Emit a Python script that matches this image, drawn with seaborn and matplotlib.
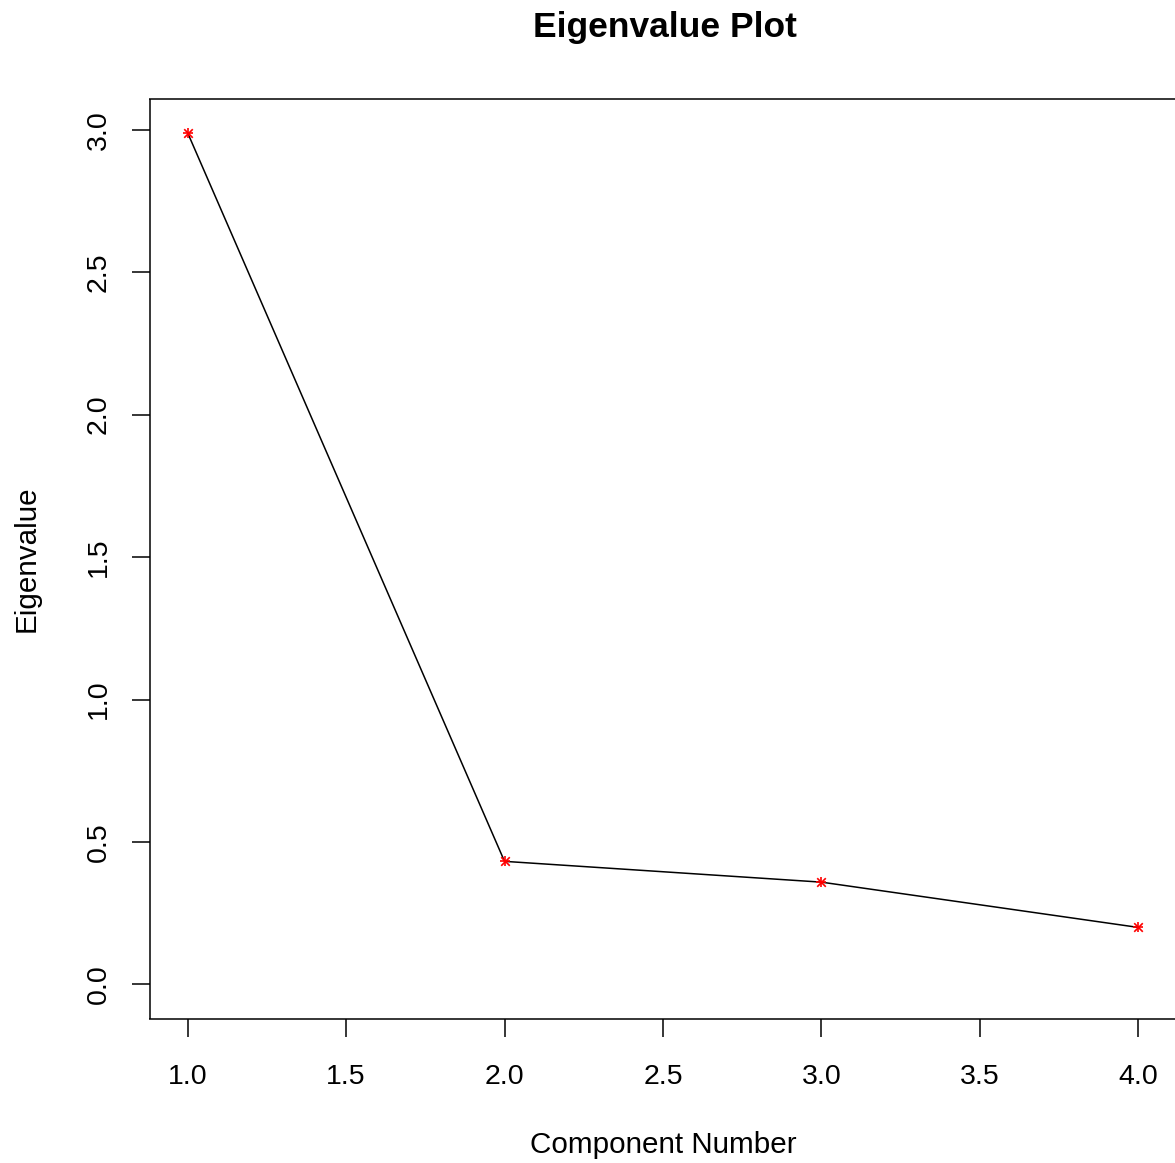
import matplotlib
matplotlib.use("Agg")
import matplotlib.pyplot as plt
import seaborn as sns
import pandas as pd

components = [1, 2, 3, 4]
eigenvalues = [2.99, 0.432, 0.359, 0.200]
x_ticks = [1.0, 1.5, 2.0, 2.5, 3.0, 3.5, 4.0]
y_ticks = [0.0, 0.5, 1.0, 1.5, 2.0, 2.5, 3.0]

sns.set_theme(style="white")
plt.rcParams['font.family'] = ['Liberation Sans', 'DejaVu Sans']

df = pd.DataFrame({"Component Number": components, "Eigenvalue": eigenvalues})

W, H = 1175, 1163
fig = plt.figure(figsize=(W / 100, H / 100), dpi=100)
left, right, top, bottom = 149.5, 1176.5, 98.5, 1018.5
ax = fig.add_axes([left / W, 1 - bottom / H, (right - left) / W, (bottom - top) / H])

sns.lineplot(data=df, x="Component Number", y="Eigenvalue", color="black",
             linewidth=1.1, ax=ax)
sns.scatterplot(data=df, x="Component Number", y="Eigenvalue", marker="+",
                color="red", s=60, linewidth=1.2, ax=ax, zorder=3)
sns.scatterplot(data=df, x="Component Number", y="Eigenvalue", marker="x",
                color="red", s=38, linewidth=1.2, ax=ax, zorder=3)

ax.set_xlim(0.88, 4.12)
ax.set_ylim(-0.1196, 3.1096)
ax.set_xticks(x_ticks)
ax.set_xticklabels([f"{v:.1f}" for v in x_ticks])
ax.set_yticks(y_ticks)
ax.set_yticklabels([f"{v:.1f}" for v in y_ticks], rotation=90, va="center")

for s in ax.spines.values():
    s.set_visible(True)
    s.set_color("black")
    s.set_linewidth(1.1)
    s.set_capstyle("butt")

ax.tick_params(axis="both", which="major", direction="out", length=13, width=1.1,
               color="black", labelsize=20.5, labelcolor="black", bottom=True, left=True)
ax.tick_params(axis="x", pad=20)
ax.tick_params(axis="y", pad=14)

ax.set_xlabel("Component Number", fontsize=21.3, color="black", labelpad=29)
ax.set_ylabel("Eigenvalue", fontsize=21.3, color="black", labelpad=33)
fig.text(665 / W, 1 - 28 / H, "Eigenvalue Plot", ha="center", va="center",
         fontsize=25.5, fontweight="bold", color="black")

fig.savefig("out.png", dpi=100, facecolor="white")
